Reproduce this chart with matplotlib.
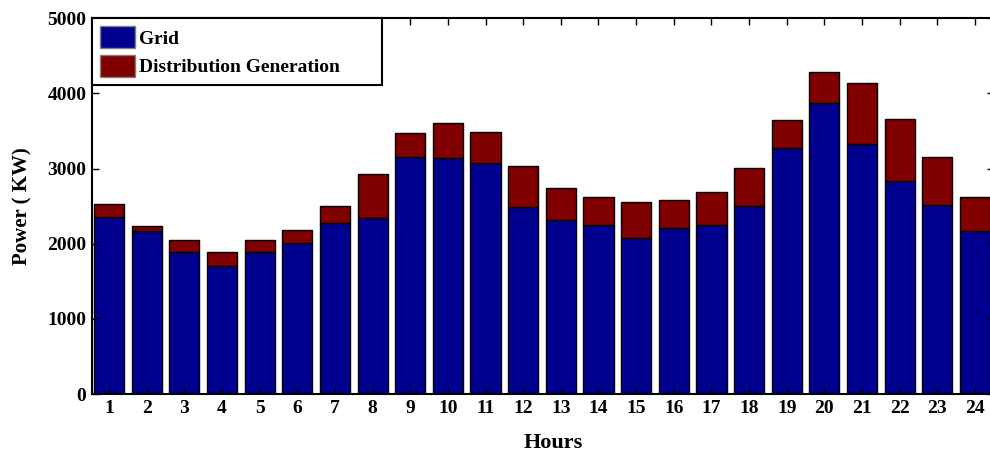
import matplotlib.pyplot as plt
import numpy as np

hours = np.arange(1, 25)
grid = [2360, 2170, 1890, 1700, 1890, 2005, 2275, 2340, 3150, 3140, 3080, 2482,
        2316, 2244, 2071, 2204, 2244, 2502, 3271, 3867, 3320, 2831, 2511, 2173]
total = [2529, 2231, 2049, 1893, 2049, 2182, 2502, 2933, 3476, 3604, 3484, 3031,
         2742, 2627, 2556, 2587, 2684, 3004, 3640, 4289, 4138, 3662, 3160, 2627]
dg = [t - g for t, g in zip(total, grid)]

plt.rcParams['font.family'] = ['Liberation Serif', 'DejaVu Serif']
plt.rcParams['font.weight'] = 'bold'
plt.rcParams['font.size'] = 14

fig = plt.figure(figsize=(9.9, 4.55), dpi=100)
ax = fig.add_axes([0.0929, 0.134, 0.911, 0.826])

ax.bar(hours, grid, width=0.8, color=(0, 0, 0.5625), edgecolor='black', linewidth=1,
       label='Grid')
ax.bar(hours, dg, width=0.8, bottom=grid, color=(0.5, 0, 0), edgecolor='black',
       linewidth=1, label='Distribution Generation')

ax.set_xlim(0.548, 24.5)
ax.set_ylim(0, 5000)
ax.set_xticks(hours)
ax.set_yticks(np.arange(0, 5001, 1000))
ax.tick_params(direction='in', top=True, right=True, length=5, width=1, labelsize=14,
               pad=4)
for lbl in ax.get_xticklabels() + ax.get_yticklabels():
    lbl.set_fontweight('bold')
for s in ax.spines.values():
    s.set_linewidth(1.5)

ax.set_xlabel('Hours', fontweight='bold', fontsize=16)
ax.xaxis.set_label_coords(0.511, -0.105)
ax.set_ylabel('Power ( KW)', fontweight='bold', fontsize=15, labelpad=11)

# matlab-like legend box, wider than its text
leg = ax.legend(loc='upper left', bbox_to_anchor=(0.0, 0.0, 0.3215, 1.0), mode='expand',
                fancybox=False, framealpha=1, edgecolor='black', borderaxespad=0.0,
                prop={'weight': 'bold', 'size': 14}, handlelength=1.8,
                handleheight=1.4, borderpad=0.4, labelspacing=0.32, handletextpad=0.2)
leg.get_frame().set_linewidth(1.5)
for h in leg.legend_handles:
    h.set_edgecolor('gray')

fig.savefig('out.png', dpi=100)
